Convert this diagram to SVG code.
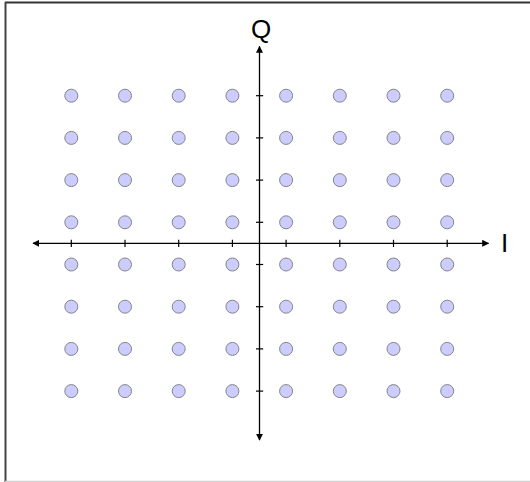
<svg xmlns="http://www.w3.org/2000/svg" width="530" height="482" viewBox="0 0 530 482">
<style>
.pt{fill:#ccccff;stroke:#858585;stroke-width:1}
.ax{stroke:#000;stroke-width:1.3;fill:none}
.tk{stroke:#000;stroke-width:1.2}
.lbl{font-family:"Liberation Sans",Arial,sans-serif;font-size:26px;fill:#000}
</style>
<defs>
<marker id="ah" viewBox="0 0 10 10" refX="9" refY="5" markerWidth="7" markerHeight="7" markerUnits="userSpaceOnUse" orient="auto">
<path d="M0,0 L10,5 L0,10 z" fill="#000"/>
</marker>
</defs>
<rect width="530" height="482" fill="#fff"/>
<g id="frame">
<line x1="5" y1="2.5" x2="530" y2="2.5" stroke="#333" stroke-width="2"/>
<line x1="5.5" y1="2" x2="5.5" y2="482" stroke="#444" stroke-width="2"/>
<line x1="5" y1="481.5" x2="530" y2="481.5" stroke="#d0d0d0" stroke-width="1.5"/>
</g>
<g id="connectors">
<line class="ax" x1="259.5" y1="243.3" x2="488.5" y2="243.3" marker-end="url(#ah)"/>
<line class="ax" x1="259.5" y1="243.3" x2="33" y2="243.3" marker-end="url(#ah)"/>
<line class="ax" x1="259.5" y1="243.3" x2="259.5" y2="46.5" marker-end="url(#ah)"/>
<line class="ax" x1="259.5" y1="243.3" x2="259.5" y2="440" marker-end="url(#ah)"/>
<g id="ticks">
<line class="tk" x1="71.3" y1="239.8" x2="71.3" y2="247"/>
<line class="tk" x1="125" y1="239.8" x2="125" y2="247"/>
<line class="tk" x1="178.7" y1="239.8" x2="178.7" y2="247"/>
<line class="tk" x1="232.4" y1="239.8" x2="232.4" y2="247"/>
<line class="tk" x1="286.1" y1="239.8" x2="286.1" y2="247"/>
<line class="tk" x1="339.8" y1="239.8" x2="339.8" y2="247"/>
<line class="tk" x1="393.5" y1="239.8" x2="393.5" y2="247"/>
<line class="tk" x1="447.2" y1="239.8" x2="447.2" y2="247"/>
<line class="tk" x1="256" y1="95.7" x2="263.2" y2="95.7"/>
<line class="tk" x1="256" y1="137.9" x2="263.2" y2="137.9"/>
<line class="tk" x1="256" y1="180.1" x2="263.2" y2="180.1"/>
<line class="tk" x1="256" y1="222.3" x2="263.2" y2="222.3"/>
<line class="tk" x1="256" y1="264.5" x2="263.2" y2="264.5"/>
<line class="tk" x1="256" y1="306.7" x2="263.2" y2="306.7"/>
<line class="tk" x1="256" y1="348.9" x2="263.2" y2="348.9"/>
<line class="tk" x1="256" y1="391.1" x2="263.2" y2="391.1"/>
</g>
</g>
<g id="label-Q"><text class="lbl" x="261" y="37.5" text-anchor="middle">Q</text></g>
<g id="label-I"><text class="lbl" x="501" y="251.5">I</text></g>
<g id="points">
<g id="row1">
<circle class="pt" cx="71.3" cy="95.7" r="6.5"/><circle class="pt" cx="125" cy="95.7" r="6.5"/><circle class="pt" cx="178.7" cy="95.7" r="6.5"/><circle class="pt" cx="232.4" cy="95.7" r="6.5"/><circle class="pt" cx="286.1" cy="95.7" r="6.5"/><circle class="pt" cx="339.8" cy="95.7" r="6.5"/><circle class="pt" cx="393.5" cy="95.7" r="6.5"/><circle class="pt" cx="447.2" cy="95.7" r="6.5"/>
</g>
<g id="row2">
<circle class="pt" cx="71.3" cy="137.9" r="6.5"/><circle class="pt" cx="125" cy="137.9" r="6.5"/><circle class="pt" cx="178.7" cy="137.9" r="6.5"/><circle class="pt" cx="232.4" cy="137.9" r="6.5"/><circle class="pt" cx="286.1" cy="137.9" r="6.5"/><circle class="pt" cx="339.8" cy="137.9" r="6.5"/><circle class="pt" cx="393.5" cy="137.9" r="6.5"/><circle class="pt" cx="447.2" cy="137.9" r="6.5"/>
</g>
<g id="row3">
<circle class="pt" cx="71.3" cy="180.1" r="6.5"/><circle class="pt" cx="125" cy="180.1" r="6.5"/><circle class="pt" cx="178.7" cy="180.1" r="6.5"/><circle class="pt" cx="232.4" cy="180.1" r="6.5"/><circle class="pt" cx="286.1" cy="180.1" r="6.5"/><circle class="pt" cx="339.8" cy="180.1" r="6.5"/><circle class="pt" cx="393.5" cy="180.1" r="6.5"/><circle class="pt" cx="447.2" cy="180.1" r="6.5"/>
</g>
<g id="row4">
<circle class="pt" cx="71.3" cy="222.3" r="6.5"/><circle class="pt" cx="125" cy="222.3" r="6.5"/><circle class="pt" cx="178.7" cy="222.3" r="6.5"/><circle class="pt" cx="232.4" cy="222.3" r="6.5"/><circle class="pt" cx="286.1" cy="222.3" r="6.5"/><circle class="pt" cx="339.8" cy="222.3" r="6.5"/><circle class="pt" cx="393.5" cy="222.3" r="6.5"/><circle class="pt" cx="447.2" cy="222.3" r="6.5"/>
</g>
<g id="row5">
<circle class="pt" cx="71.3" cy="264.5" r="6.5"/><circle class="pt" cx="125" cy="264.5" r="6.5"/><circle class="pt" cx="178.7" cy="264.5" r="6.5"/><circle class="pt" cx="232.4" cy="264.5" r="6.5"/><circle class="pt" cx="286.1" cy="264.5" r="6.5"/><circle class="pt" cx="339.8" cy="264.5" r="6.5"/><circle class="pt" cx="393.5" cy="264.5" r="6.5"/><circle class="pt" cx="447.2" cy="264.5" r="6.5"/>
</g>
<g id="row6">
<circle class="pt" cx="71.3" cy="306.7" r="6.5"/><circle class="pt" cx="125" cy="306.7" r="6.5"/><circle class="pt" cx="178.7" cy="306.7" r="6.5"/><circle class="pt" cx="232.4" cy="306.7" r="6.5"/><circle class="pt" cx="286.1" cy="306.7" r="6.5"/><circle class="pt" cx="339.8" cy="306.7" r="6.5"/><circle class="pt" cx="393.5" cy="306.7" r="6.5"/><circle class="pt" cx="447.2" cy="306.7" r="6.5"/>
</g>
<g id="row7">
<circle class="pt" cx="71.3" cy="348.9" r="6.5"/><circle class="pt" cx="125" cy="348.9" r="6.5"/><circle class="pt" cx="178.7" cy="348.9" r="6.5"/><circle class="pt" cx="232.4" cy="348.9" r="6.5"/><circle class="pt" cx="286.1" cy="348.9" r="6.5"/><circle class="pt" cx="339.8" cy="348.9" r="6.5"/><circle class="pt" cx="393.5" cy="348.9" r="6.5"/><circle class="pt" cx="447.2" cy="348.9" r="6.5"/>
</g>
<g id="row8">
<circle class="pt" cx="71.3" cy="391.1" r="6.5"/><circle class="pt" cx="125" cy="391.1" r="6.5"/><circle class="pt" cx="178.7" cy="391.1" r="6.5"/><circle class="pt" cx="232.4" cy="391.1" r="6.5"/><circle class="pt" cx="286.1" cy="391.1" r="6.5"/><circle class="pt" cx="339.8" cy="391.1" r="6.5"/><circle class="pt" cx="393.5" cy="391.1" r="6.5"/><circle class="pt" cx="447.2" cy="391.1" r="6.5"/>
</g>
</g>
</svg>
